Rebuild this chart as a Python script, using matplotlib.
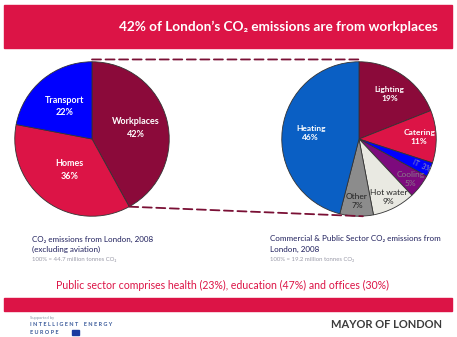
import numpy as np
import matplotlib
matplotlib.use("Agg")
from matplotlib import pyplot as plt
from matplotlib.patches import Rectangle, ConnectionPatch

plt.rcParams['font.family'] = ['Lato', 'DejaVu Sans']

# data
london_labels = ["Workplaces", "Homes", "Transport"]
london_values = [42, 36, 22]
work_labels = ["Lighting", "Catering", "IT", "Cooling", "Hot water", "Other", "Heating"]
work_values = [19, 11, 3, 5, 9, 7, 46]

crimson = "#dc1446"
maroon = "#8b0a3a"
navy = "#1f1f5c"

W, H = 457, 337
fig = plt.figure(figsize=(W / 100, H / 100), dpi=100)
fig.patch.set_facecolor("white")


def box(x0, y0, x1, y1):
    # pixel box (top-left origin) -> figure fraction
    return [x0 / W, 1 - y1 / H, (x1 - x0) / W, (y1 - y0) / H]


# header and footer bands
fig.patches.append(Rectangle((4 / W, 1 - 48 / H), 448 / W, 43 / H, transform=fig.transFigure,
                             color=crimson, zorder=0))
fig.patches.append(Rectangle((4 / W, 1 - 311 / H), 448 / W, 13 / H, transform=fig.transFigure,
                             color=crimson, zorder=0))
fig.text(438 / W, 1 - 27 / H, "42% of London\u2019s CO\u2082 emissions are from workplaces",
         color="white", fontsize=9.8, fontweight="bold", ha="right", va="center")

# left pie
ax1 = fig.add_axes(box(14, 61, 170, 217))
w1, _ = ax1.pie(london_values, colors=[maroon, crimson, "#0000ff"], startangle=90,
                counterclock=False, wedgeprops=dict(edgecolor="#333333", linewidth=0.6))
ax1.set_xlim(-1.01, 1.01)
ax1.set_ylim(-1.01, 1.01)
ax1.set_aspect("equal")
dist1 = [0.58, 0.5, 0.55]
for w, lab, v, d in zip(w1, london_labels, london_values, dist1):
    a = np.deg2rad((w.theta1 + w.theta2) / 2)
    ax1.text(d * np.cos(a), d * np.sin(a), "%s\n%d%%" % (lab, v), color="white",
             fontsize=6.5, fontweight="bold", ha="center", va="center", linespacing=1.5)

# right pie
ax2 = fig.add_axes(box(281, 61, 437, 217))
cols2 = [maroon, crimson, "#0000ff", "#7d0a7d", "#e9e9e2", "#8c8c8c", "#0a5fc4"]
w2, _ = ax2.pie(work_values, colors=cols2, startangle=90, counterclock=False,
                wedgeprops=dict(edgecolor="#333333", linewidth=0.6))
ax2.set_xlim(-1.01, 1.01)
ax2.set_ylim(-1.01, 1.01)
ax2.set_aspect("equal")
dist2 = [0.7, 0.78, 0.88, 0.85, 0.84, 0.8, 0.63]
tcol2 = ["white", "white", "#9a9ab8", "#8a7a8a", "#222222", "#222222", "white"]
for w, lab, v, d, c in zip(w2, work_labels, work_values, dist2, tcol2):
    a = np.deg2rad((w.theta1 + w.theta2) / 2)
    txt = "%s  %d%%" % (lab, v) if lab == "IT" else "%s\n%d%%" % (lab, v)
    ax2.text(d * np.cos(a), d * np.sin(a), txt, color=c, fontsize=6 if lab != "IT" else 5,
             fontweight="bold" if c == "white" else "normal",
             rotation=-25 if lab == "IT" else 0, rotation_mode="anchor" if lab == "IT" else "default",
             ha="center", va="center", linespacing=1.4)

# dashed connectors: top of both pies, and Workplaces edge to bottom of right pie
a_end = np.deg2rad(w1[0].theta1)
for p1, p2 in [((0, 1.03), (0, 1.03)), ((np.cos(a_end), np.sin(a_end)), (0.05, -1))]:
    con = ConnectionPatch(xyA=p1, coordsA=ax1.transData, xyB=p2, coordsB=ax2.transData,
                          linestyle=(0, (5, 2.5)), color="#7a1035", linewidth=1.3)
    fig.add_artist(con)

# captions
fig.text(32 / W, 1 - 239 / H, "CO\u2082 emissions from London, 2008", color=navy, fontsize=5.8, va="center")
fig.text(32 / W, 1 - 249 / H, "(excluding aviation)", color=navy, fontsize=5.8, va="center")
fig.text(32 / W, 1 - 259 / H, "100% = 44.7 million tonnes CO\u2082", color="#9a9aa8", fontsize=4.3, va="center")
fig.text(270 / W, 1 - 239 / H, "Commercial & Public Sector CO\u2082 emissions from", color=navy, fontsize=5.8, va="center")
fig.text(270 / W, 1 - 249 / H, "London, 2008", color=navy, fontsize=5.8, va="center")
fig.text(270 / W, 1 - 259 / H, "100% = 19.2 million tonnes CO\u2082", color="#9a9aa8", fontsize=4.3, va="center")

fig.text(222 / W, 1 - 285 / H, "Public sector comprises health (23%), education (47%) and offices (30%)",
         color=crimson, fontsize=7.6, ha="center", va="center")

# footer
fig.text(30 / W, 1 - 318 / H, "Supported by", color="#8899aa", fontsize=3, va="center")
fig.text(30 / W, 1 - 325 / H, "I N T E L L I G E N T    E N E R G Y", color="#3a5a9a", fontsize=4,
         fontweight="bold", va="center")
fig.text(30 / W, 1 - 332 / H, "E U R O P E", color="#3a5a9a", fontsize=4, fontweight="bold", va="center")
fig.patches.append(Rectangle((72 / W, 1 - 335 / H), 7 / W, 5 / H, transform=fig.transFigure,
                             color="#1a3aa0", zorder=0))
fig.text(442 / W, 1 - 325 / H, "MAYOR OF LONDON", color="#3a3a3a", fontsize=8, fontweight="bold",
         ha="right", va="center")

fig.savefig("out.png", dpi=100)
